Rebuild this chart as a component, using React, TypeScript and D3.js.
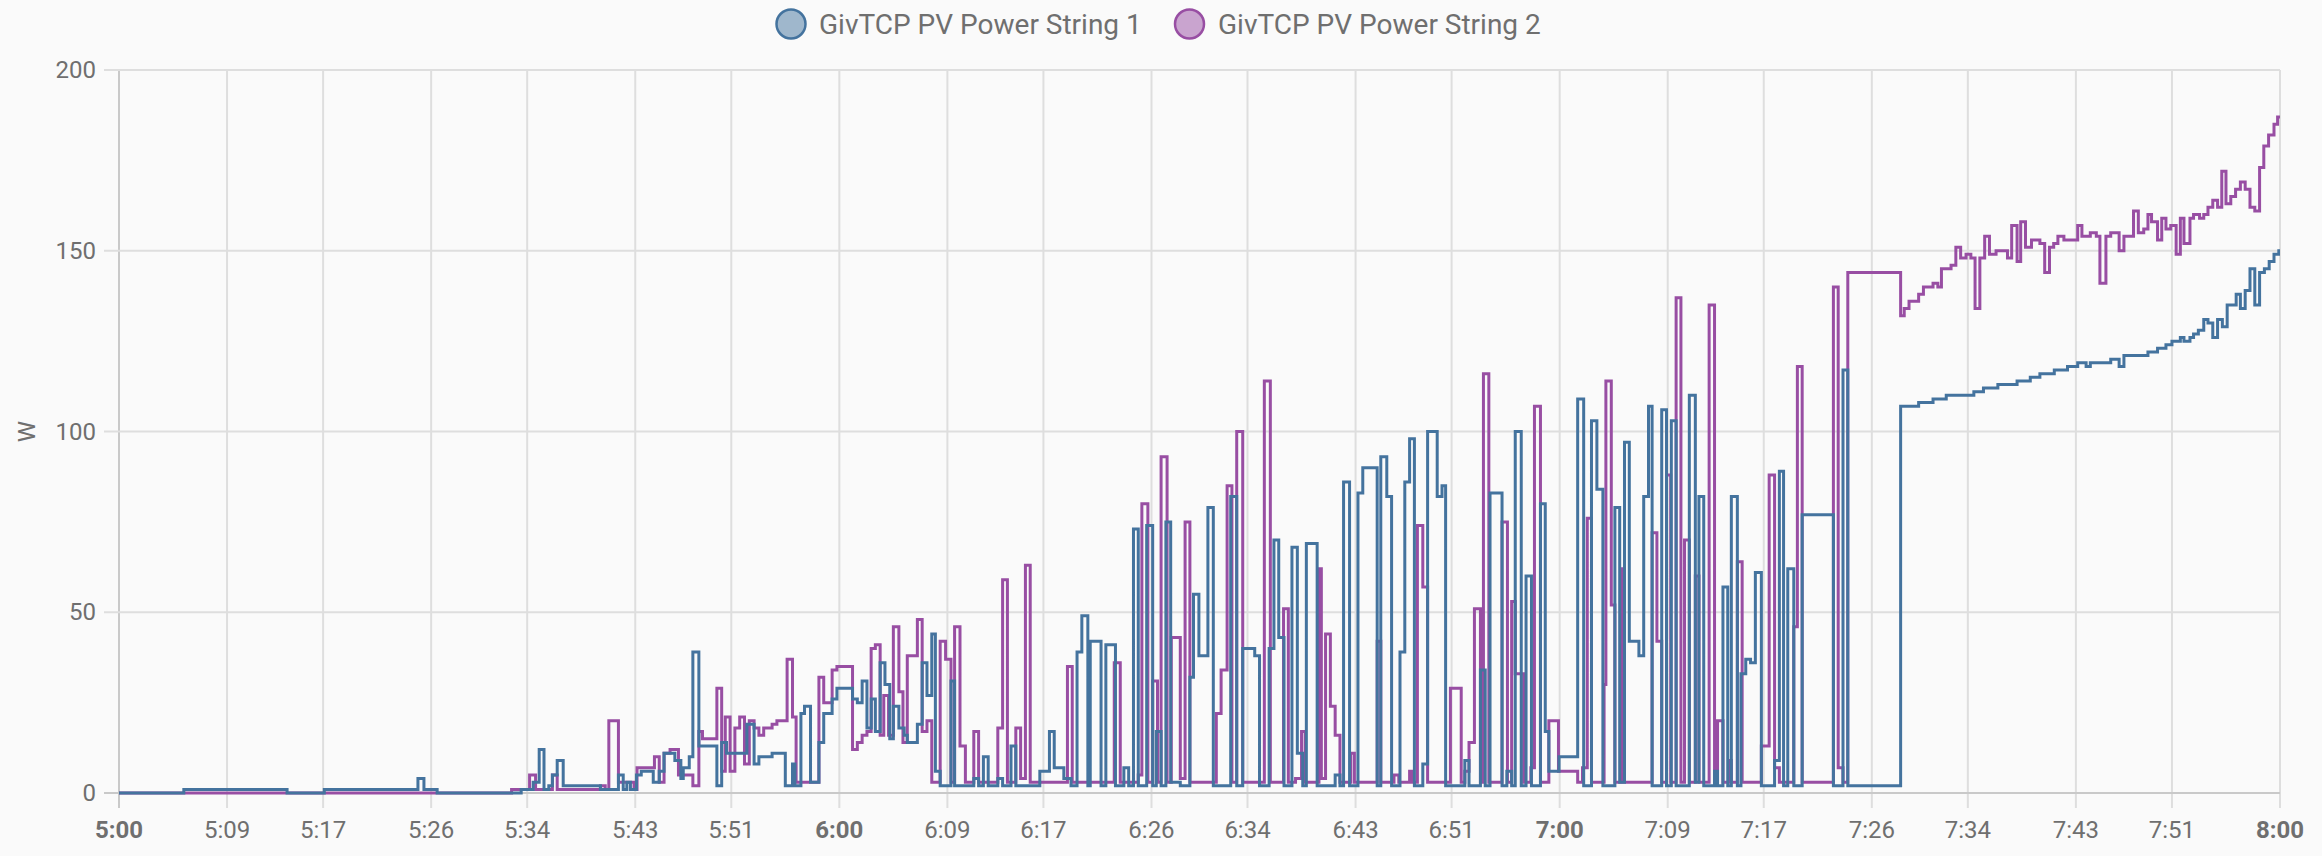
import React from 'react';
import * as d3 from 'd3';

// legend / series
const seriesNames = ['GivTCP PV Power String 1', 'GivTCP PV Power String 2'];
const seriesColors = ['#44739e', '#984ea3'];

// axes
const yTicks = [0, 50, 100, 150, 200];
const xTickMinutes = [0, 9, 17, 26, 34, 43, 51, 60, 69, 77, 86, 94, 103, 111, 120, 129, 137, 146, 154, 163, 171, 180];

// String 1: minutes after 05:00 where the reading changes, and the new reading (W)
const string1Minutes = [
  0, 5.4, 14.0, 17.1, 24.9, 25.4, 26.5, 33.5, 34.5, 35.0, 35.4, 35.8, 36.1, 36.5, 37.0, 40.1, 41.6, 42.0, 42.3, 42.6,
  43.1, 43.5, 44.5, 45.0, 45.4, 46.3, 46.8, 47.0, 47.5, 47.8, 48.3, 49.8, 50.2, 50.6, 52.3, 52.9, 53.3, 54.4, 55.5, 56.1,
  56.3, 56.8, 57.1, 57.6, 58.3, 58.7, 59.4, 59.8, 61.1, 61.5, 61.9, 62.3, 62.66, 63.0, 63.4, 63.8, 64.2, 64.5, 64.96, 65.4,
  65.66, 66.5, 66.9, 67.3, 67.7, 68.0, 68.4, 69.3, 69.6, 71.2, 71.6, 72.0, 72.4, 73.2, 73.6, 74.3, 74.7, 76.7, 77.5, 77.9,
  78.7, 79.3, 79.8, 80.2, 80.7, 80.9, 81.8, 82.2, 83.0, 83.7, 84.1, 84.5, 84.9, 85.6, 86.1, 86.4, 86.8, 87.2, 87.6, 88.4,
  89.2, 89.5, 89.95, 90.7, 91.15, 92.6, 93.1, 93.6, 94.6, 95.0, 95.8, 96.2, 96.6, 97.04, 97.7, 98.15, 98.6, 98.9, 99.8, 101.3,
  101.7, 102.0, 102.5, 103.2, 103.6, 104.8, 105.1, 105.6, 106.0, 106.7, 107.1, 107.5, 107.9, 108.6, 109.0, 109.8, 110.2, 110.5, 112.1, 112.45,
  113.4, 113.8, 114.2, 115.2, 115.6, 116.0, 116.3, 116.8, 117.2, 117.65, 118.4, 118.8, 119.1, 119.95, 121.5, 122.0, 122.65, 123.1, 123.6, 124.6,
  125.0, 125.4, 125.8, 126.6, 127.0, 127.4, 127.7, 128.5, 128.9, 129.3, 129.7, 130.8, 131.3, 131.6, 132.0, 132.9, 133.15, 133.6, 134.0, 134.3,
  134.8, 135.1, 135.5, 135.9, 136.3, 136.8, 137.9, 138.3, 138.65, 139.0, 139.5, 140.2, 142.8, 143.6, 144.0, 148.4, 149.9, 151.1, 152.2, 154.5,
  155.3, 156.5, 158.1, 159.2, 160.0, 161.2, 162.3, 163.15, 163.85, 164.2, 165.9, 166.6, 167.0, 169.0, 169.8, 170.5, 171.0, 171.7, 172.0, 172.5,
  172.8, 173.2, 173.65, 174.0, 174.4, 174.8, 175.2, 175.6, 176.35, 176.7, 177.1, 177.5, 177.9, 178.3, 178.7, 179.1, 179.5, 179.9, 180,
];
const string1Watts = [
  0, 1, 0, 1, 4, 1, 0, 1, 3, 12, 1, 2, 5, 9, 2, 1, 5, 1, 3, 1,
  5, 6, 3, 6, 11, 9, 4, 7, 10, 39, 13, 2, 14, 11, 19, 8, 10, 11, 2, 8,
  2, 22, 24, 3, 14, 22, 26, 29, 26, 25, 31, 18, 26, 17, 36, 30, 15, 24, 18, 16,
  14, 19, 36, 27, 44, 6, 2, 31, 2, 4, 2, 10, 2, 4, 2, 13, 2, 6, 17, 7,
  4, 2, 39, 49, 2, 42, 2, 41, 2, 7, 2, 73, 2, 74, 2, 17, 2, 75, 3, 2,
  32, 55, 38, 79, 2, 82, 2, 40, 38, 2, 40, 70, 43, 2, 68, 11, 2, 69, 2, 5,
  2, 86, 2, 83, 90, 2, 93, 82, 2, 39, 86, 98, 2, 8, 100, 82, 85, 2, 9, 2,
  34, 2, 83, 2, 6, 2, 100, 2, 60, 2, 80, 17, 6, 10, 109, 2, 103, 84, 2, 79,
  3, 97, 42, 38, 82, 107, 2, 106, 2, 103, 2, 110, 3, 82, 2, 6, 2, 57, 2, 82,
  2, 33, 37, 36, 61, 2, 9, 89, 2, 62, 2, 77, 2, 117, 2, 107, 108, 109, 110, 111,
  112, 113, 114, 115, 116, 117, 118, 119, 118, 119, 120, 118, 121, 122, 123, 124, 125, 126, 125, 126,
  127, 128, 131, 130, 126, 131, 129, 135, 138, 134, 139, 145, 135, 144, 145, 147, 149, 150, 150,
];

// String 2
const string2Minutes = [
  0, 32.7, 34.2, 34.7, 36.1, 36.5, 40.1, 40.5, 40.8, 41.6, 42.9, 43.15, 44.6, 45.0, 45.4, 45.9, 46.6, 47.8, 48.3, 48.6,
  49.8, 50.2, 50.5, 50.9, 51.3, 51.7, 52.1, 52.5, 52.9, 53.3, 53.7, 54.4, 54.8, 55.65, 56.1, 56.4, 58.3, 58.7, 59.4, 59.8,
  61.1, 61.5, 61.9, 62.3, 62.65, 63.0, 63.4, 63.7, 64.1, 64.5, 64.96, 65.3, 65.66, 66.5, 66.9, 67.3, 67.7, 68.4, 68.85, 69.3,
  69.6, 70.05, 70.5, 71.2, 71.6, 73.2, 73.6, 74.0, 74.7, 75.1, 75.5, 75.9, 79.0, 79.4, 82.9, 83.4, 84.9, 85.2, 85.7, 86.1,
  86.5, 86.8, 87.3, 87.65, 88.4, 88.8, 89.2, 91.4, 91.8, 92.3, 92.7, 93.1, 93.6, 95.4, 95.9, 97.0, 97.4, 98.0, 98.5, 98.8,
  99.95, 100.15, 100.5, 100.9, 101.3, 101.7, 102.6, 102.9, 104.8, 105.1, 106.2, 106.6, 107.5, 107.7, 108.15, 108.6, 109.0, 110.9, 111.8, 112.1,
  112.45, 112.9, 113.4, 113.65, 114.1, 115.2, 115.65, 116.0, 116.3, 117.0, 117.6, 117.9, 118.4, 119.1, 119.9, 121.5, 121.9, 122.3, 122.65, 123.7,
  123.85, 124.3, 124.6, 125.1, 125.3, 127.7, 128.1, 128.5, 128.9, 129.25, 129.7, 130.1, 130.4, 130.8, 131.3, 131.6, 132.45, 132.9, 133.15, 133.6,
  134.1, 134.3, 134.8, 135.2, 136.8, 137.45, 137.9, 138.3, 139.5, 139.8, 140.2, 142.8, 143.2, 143.6, 144.0, 148.4, 148.7, 149.1, 149.9, 150.3,
  151.1, 151.5, 151.8, 152.6, 153.0, 153.4, 153.85, 154.25, 154.6, 155.0, 155.4, 155.8, 156.35, 157.3, 157.65, 158.1, 158.4, 158.8, 159.3, 160.0,
  160.4, 160.8, 161.15, 161.5, 162.0, 163.15, 163.5, 164.2, 164.7, 165.0, 165.5, 165.9, 166.6, 167.0, 167.8, 168.2, 168.65, 169.0, 169.3, 169.8,
  170.15, 170.5, 170.9, 171.35, 171.7, 172.0, 172.5, 172.8, 173.3, 173.65, 174.0, 174.4, 174.8, 175.15, 175.5, 175.9, 176.3, 176.7, 177.1, 177.5,
  177.9, 178.3, 178.65, 179.05, 179.5, 179.8, 180,
];
const string2Watts = [
  0, 1, 5, 1, 5, 1, 2, 1, 20, 3, 1, 7, 10, 3, 11, 12, 5, 2, 17, 15,
  29, 6, 21, 6, 18, 21, 8, 20, 18, 16, 18, 19, 20, 37, 21, 3, 32, 25, 34, 35,
  12, 14, 16, 17, 40, 41, 16, 27, 16, 46, 28, 14, 38, 48, 17, 20, 3, 42, 37, 3,
  46, 13, 3, 17, 3, 18, 59, 3, 18, 4, 63, 3, 35, 3, 36, 3, 5, 80, 3, 31,
  3, 93, 3, 43, 4, 75, 3, 22, 34, 85, 3, 100, 3, 114, 3, 51, 3, 4, 17, 3,
  62, 4, 44, 24, 16, 3, 11, 3, 42, 3, 5, 3, 6, 3, 74, 57, 3, 29, 3, 6,
  14, 51, 3, 116, 3, 75, 3, 53, 33, 3, 7, 107, 3, 20, 6, 3, 7, 76, 3, 30,
  114, 52, 3, 62, 3, 72, 42, 3, 88, 3, 137, 3, 70, 3, 60, 3, 135, 3, 20, 3,
  9, 3, 64, 3, 13, 88, 7, 3, 46, 118, 3, 140, 7, 3, 144, 132, 134, 136, 138, 140,
  141, 140, 145, 146, 151, 148, 149, 148, 134, 148, 154, 149, 150, 148, 157, 147, 158, 151, 153, 152,
  144, 151, 152, 154, 153, 157, 154, 155, 154, 141, 154, 155, 150, 154, 161, 155, 156, 160, 158, 153,
  159, 156, 157, 149, 159, 152, 159, 160, 159, 160, 162, 164, 162, 172, 163, 165, 167, 169, 167, 162,
  161, 173, 179, 182, 185, 187, 187,
];

const W = 2322;
const H = 856;
const margin = { top: 70, right: 42, bottom: 63, left: 119 };
const textColor = '#6f6f6f';
const gridColor = '#dedede';
const axisColor = '#c9c9c9';
const font = 'Roboto, sans-serif';

const start = new Date(2024, 0, 1, 5, 0, 0);
const toDate = (m: number) => new Date(start.getTime() + m * 60000);

const App: React.FC = () => {
  const x = d3
    .scaleTime()
    .domain([toDate(0), toDate(180)])
    .range([margin.left, W - margin.right]);
  const y = d3
    .scaleLinear()
    .domain([0, 200])
    .range([H - margin.bottom, margin.top]);

  const line = d3
    .line<[number, number]>()
    .x((d) => x(toDate(d[0])))
    .y((d) => y(d[1]))
    .curve(d3.curveStepAfter);

  const series: [number, number][][] = [
    string1Minutes.map((m, i) => [m, string1Watts[i]] as [number, number]),
    string2Minutes.map((m, i) => [m, string2Watts[i]] as [number, number]),
  ];

  const fmt = d3.timeFormat('%-H:%M');
  const x0 = margin.left;
  const x1 = W - margin.right;
  const yBottom = y(0);

  // legend placement
  const legendY = 24;
  const legendItems = [
    { cx: 791, tx: 819 },
    { cx: 1189.5, tx: 1218 },
  ];

  return (
    <svg width={W} height={H} style={{ position: 'absolute', left: 0, top: 0 }} fontFamily={font}>
      <rect x={0} y={0} width={W} height={H} fill="#fafafa" />
      <defs>
        <clipPath id="plot">
          <rect x={x0} y={margin.top - 4} width={x1 - x0} height={yBottom - margin.top + 8} />
        </clipPath>
      </defs>

      {/* vertical grid + ticks */}
      {xTickMinutes.map((m) => (
        <line
          key={'vx' + m}
          x1={x(toDate(m))}
          x2={x(toDate(m))}
          y1={margin.top}
          y2={yBottom + 15}
          stroke={m === 0 ? axisColor : gridColor}
          strokeWidth={2}
        />
      ))}
      {/* horizontal grid + ticks */}
      {yTicks.map((v) => (
        <line
          key={'hy' + v}
          x1={x0 - 15}
          x2={x1}
          y1={y(v)}
          y2={y(v)}
          stroke={v === 0 ? axisColor : gridColor}
          strokeWidth={2}
        />
      ))}

      {/* y tick labels */}
      {yTicks.map((v) => (
        <text
          key={'ly' + v}
          x={x0 - 23}
          y={y(v)}
          textAnchor="end"
          dominantBaseline="central"
          fontSize={24}
          fill={textColor}
        >
          {v}
        </text>
      ))}
      {/* x tick labels */}
      {xTickMinutes.map((m) => (
        <text
          key={'lx' + m}
          x={x(toDate(m))}
          y={830}
          textAnchor="middle"
          dominantBaseline="central"
          fontSize={24}
          fontWeight={m % 60 === 0 ? 700 : 400}
          fill={textColor}
        >
          {fmt(toDate(m))}
        </text>
      ))}

      {/* y axis title */}
      <text
        transform={`translate(27, ${(margin.top + yBottom) / 2}) rotate(-90)`}
        textAnchor="middle"
        dominantBaseline="central"
        fontSize={24}
        fill={textColor}
      >
        W
      </text>

      {/* lines: first dataset on top */}
      <g clipPath="url(#plot)">
        {[1, 0].map((i) => (
          <path
            key={'s' + i}
            d={line(series[i]) || ''}
            fill="none"
            stroke={seriesColors[i]}
            strokeWidth={3}
            strokeLinejoin="miter"
          />
        ))}
      </g>

      {/* legend */}
      {seriesNames.map((name, i) => (
        <g key={'lg' + i}>
          <circle
            cx={legendItems[i].cx}
            cy={legendY}
            r={14.5}
            fill={seriesColors[i]}
            fillOpacity={0.5}
            stroke={seriesColors[i]}
            strokeWidth={2.5}
          />
          <text x={legendItems[i].tx} y={legendY} dominantBaseline="central" fontSize={28} fill={textColor}>
            {name}
          </text>
        </g>
      ))}
    </svg>
  );
};

export default App;
